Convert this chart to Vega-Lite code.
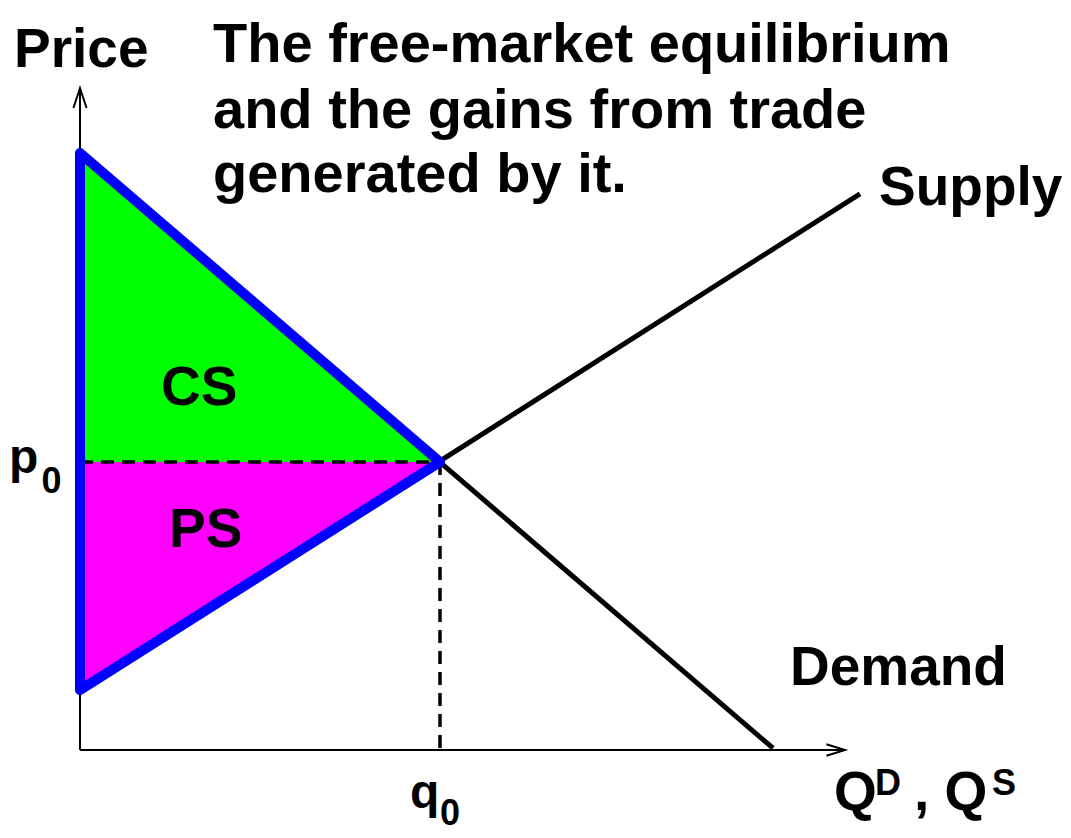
{
  "$schema": "https://vega.github.io/schema/vega-lite/v6.json",
  "width": 1071,
  "height": 838,
  "autosize": {"type": "fit", "contains": "padding"},
  "padding": 0,
  "background": "white",
  "config": {"view": {"stroke": null}},
  "datasets": {
    "regions": [
      {"region": "CS", "x": 0, "y": 9.95, "y2": 4.8},
      {"region": "CS", "x": 6, "y": 4.8, "y2": 4.8},
      {"region": "PS", "x": 0, "y": 4.8, "y2": 1.0},
      {"region": "PS", "x": 6, "y": 4.8, "y2": 4.8}
    ],
    "lines": [
      {"id": "supply", "o": 0, "x": 0, "y": 1.0},
      {"id": "supply", "o": 1, "x": 13, "y": 9.27},
      {"id": "demand", "o": 0, "x": 0, "y": 9.95},
      {"id": "demand", "o": 1, "x": 11.55, "y": 0.03},
      {"id": "yaxis", "o": 0, "x": 0, "y": 0},
      {"id": "yaxis", "o": 1, "x": 0, "y": 11.03},
      {"id": "yarrow", "o": 0, "x": -0.11, "y": 10.7},
      {"id": "yarrow", "o": 1, "x": 0, "y": 11.03},
      {"id": "yarrow", "o": 2, "x": 0.11, "y": 10.7},
      {"id": "xaxis", "o": 0, "x": 0, "y": 0},
      {"id": "xaxis", "o": 1, "x": 12.75, "y": 0},
      {"id": "xarrow", "o": 0, "x": 12.44, "y": 0.095},
      {"id": "xarrow", "o": 1, "x": 12.75, "y": 0},
      {"id": "xarrow", "o": 2, "x": 12.44, "y": -0.095},
      {"id": "p0dash", "o": 0, "x": 0, "y": 4.8},
      {"id": "p0dash", "o": 1, "x": 6, "y": 4.8},
      {"id": "q0dash", "o": 0, "x": 6, "y": 4.8},
      {"id": "q0dash", "o": 1, "x": 6, "y": 0},
      {"id": "outline", "o": 0, "x": 0, "y": 9.95},
      {"id": "outline", "o": 1, "x": 6, "y": 4.8},
      {"id": "outline", "o": 2, "x": 0, "y": 1.0},
      {"id": "outline", "o": 3, "x": 0, "y": 9.95}
    ],
    "labels": [
      {"text": "Price", "role": "big", "x": -1.1, "y": 11.383},
      {"text": "The free-market equilibrium", "role": "title", "x": 2.217, "y": 11.467},
      {"text": "and the gains from trade", "role": "title", "x": 2.217, "y": 10.367},
      {"text": "generated by it.", "role": "title", "x": 2.217, "y": 9.3},
      {"text": "Supply", "role": "big", "x": 13.317, "y": 9.083},
      {"text": "Demand", "role": "big", "x": 11.833, "y": 1.083},
      {"text": "CS", "role": "big", "x": 1.35, "y": 5.75},
      {"text": "PS", "role": "big", "x": 1.483, "y": 3.383},
      {"text": "p", "role": "mid", "x": -1.183, "y": 4.617},
      {"text": "0", "role": "small", "x": -0.64, "y": 4.283},
      {"text": "q", "role": "mid", "x": 5.5, "y": -0.967},
      {"text": "0", "role": "small", "x": 6.0, "y": -1.25},
      {"text": "Q", "role": "big", "x": 12.567, "y": -1.0},
      {"text": "D", "role": "small", "x": 13.25, "y": -0.75},
      {"text": ", Q", "role": "big", "x": 13.9, "y": -1.0},
      {"text": "S", "role": "small", "x": 15.2, "y": -0.75}
    ]
  },
  "encoding": {
    "x": {"field": "x", "type": "quantitative", "scale": {"domain": [-1.3333, 16.5167], "nice": false, "zero": false}, "axis": null},
    "y": {"field": "y", "type": "quantitative", "scale": {"domain": [-1.4667, 12.5], "nice": false, "zero": false}, "axis": null}
  },
  "layer": [
    {
      "data": {"name": "regions"},
      "mark": {"type": "area", "opacity": 1},
      "encoding": {
        "y": {"field": "y", "type": "quantitative", "stack": null},
        "y2": {"field": "y2"},
        "color": {"field": "region", "type": "nominal", "scale": {"domain": ["CS", "PS"], "range": ["#00ff00", "#ff00ff"]}, "legend": null}
      }
    },
    {
      "data": {"name": "lines"},
      "transform": [{"filter": {"field": "id", "oneOf": ["p0dash", "q0dash"]}}],
      "mark": {"type": "line", "color": "black", "strokeWidth": 3.5, "strokeDash": [13, 8]},
      "encoding": {"detail": {"field": "id"}, "order": {"field": "o"}}
    },
    {
      "data": {"name": "lines"},
      "transform": [{"filter": {"field": "id", "oneOf": ["supply", "demand"]}}],
      "mark": {"type": "line", "color": "black", "strokeWidth": 5},
      "encoding": {"detail": {"field": "id"}, "order": {"field": "o"}}
    },
    {
      "data": {"name": "lines"},
      "transform": [{"filter": {"field": "id", "oneOf": ["yaxis", "yarrow", "xaxis", "xarrow"]}}],
      "mark": {"type": "line", "color": "black", "strokeWidth": 2},
      "encoding": {"detail": {"field": "id"}, "order": {"field": "o"}}
    },
    {
      "data": {"name": "lines"},
      "transform": [{"filter": {"field": "id", "equal": "outline"}}],
      "mark": {"type": "line", "color": "#0000ff", "strokeWidth": 10, "strokeJoin": "round", "strokeCap": "round"},
      "encoding": {"detail": {"field": "id"}, "order": {"field": "o"}}
    },
    {
      "data": {"name": "labels"},
      "transform": [{"filter": {"field": "role", "equal": "title"}}],
      "mark": {"type": "text", "align": "left", "baseline": "alphabetic", "font": "Liberation Sans", "fontWeight": "bold", "fontSize": 56, "color": "black"},
      "encoding": {"text": {"field": "text"}}
    },
    {
      "data": {"name": "labels"},
      "transform": [{"filter": {"field": "role", "equal": "big"}}],
      "mark": {"type": "text", "align": "left", "baseline": "alphabetic", "font": "Liberation Sans", "fontWeight": "bold", "fontSize": 55, "color": "black"},
      "encoding": {"text": {"field": "text"}}
    },
    {
      "data": {"name": "labels"},
      "transform": [{"filter": {"field": "role", "equal": "mid"}}],
      "mark": {"type": "text", "align": "left", "baseline": "alphabetic", "font": "Liberation Sans", "fontWeight": "bold", "fontSize": 48, "color": "black"},
      "encoding": {"text": {"field": "text"}}
    },
    {
      "data": {"name": "labels"},
      "transform": [{"filter": {"field": "role", "equal": "small"}}],
      "mark": {"type": "text", "align": "left", "baseline": "alphabetic", "font": "Liberation Sans", "fontWeight": "bold", "fontSize": 36, "color": "black"},
      "encoding": {"text": {"field": "text"}}
    }
  ]
}
